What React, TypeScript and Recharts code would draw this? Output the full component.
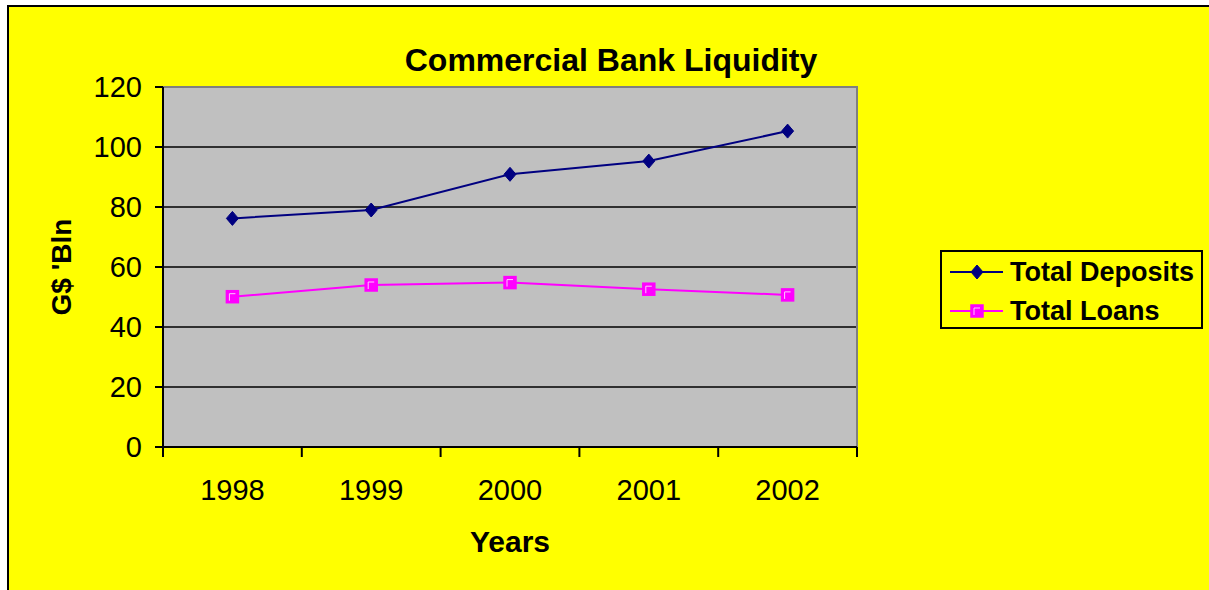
import { LineChart, Line, XAxis, YAxis, CartesianGrid, Legend, ReferenceArea, Label } from "recharts";

const years = ["1998", "1999", "2000", "2001", "2002"];
const deposits = [76.2, 79.0, 90.9, 95.3, 105.3];
const loans = [50.1, 54.0, 54.8, 52.6, 50.7];
const yTicks = [0, 20, 40, 60, 80, 100, 120];
const gridValues = [20, 40, 60, 80, 100];

const FONT = '"Liberation Sans", Arial, sans-serif';
const NAVY = "#000080";
const MAGENTA = "#FF00FF";

// numeric x so ticks can sit between categories, like excel
const rows = years.map((y, i) => ({ x: i + 0.5, year: y, deposits: deposits[i], loans: loans[i] }));

const Diamond = ({ cx, cy }: { cx: number; cy: number }) => (
  <polygon points={`${cx},${cy - 7} ${cx + 6},${cy} ${cx},${cy + 7} ${cx - 6},${cy}`} fill={NAVY} stroke={NAVY} />
);

const Square = ({ cx, cy }: { cx: number; cy: number }) => (
  <g>
    <rect x={cx - 6} y={cy - 6} width={12} height={12} fill={MAGENTA} stroke={MAGENTA} strokeWidth={1.5} />
    <polyline points={`${cx - 3},${cy + 4} ${cx - 3},${cy - 3} ${cx + 3},${cy - 3}`} fill="none" stroke="#ffc8ff" strokeWidth={1} />
  </g>
);

const XTick = (props: any) => {
  const { x, y, payload, width } = props;
  const i = payload.value;
  if (i >= years.length) return <g />;
  return (
    <text x={x + width / years.length / 2} y={y + 41} textAnchor="middle" fontSize={29} fontFamily={FONT} fill="#000">
      {years[i]}
    </text>
  );
};

const LegendBox = () => (
  <div style={{ width: 263, height: 79, boxSizing: "border-box", border: "2px solid #000", background: "#ffff00" }}>
    <svg width={259} height={75}>
      <line x1={8} x2={61} y1={20} y2={20} stroke={NAVY} strokeWidth={2} />
      <Diamond cx={35} cy={20} />
      <text x={68} y={29} fontSize={27} fontWeight="bold" fontFamily={FONT}>Total Deposits</text>
      <line x1={8} x2={61} y1={59} y2={59} stroke={MAGENTA} strokeWidth={2} />
      <Square cx={35} cy={59} />
      <text x={68} y={68} fontSize={27} fontWeight="bold" fontFamily={FONT}>Total Loans</text>
    </svg>
  </div>
);

export default function App() {
  return (
    <div style={{
      position: "absolute", left: 7, top: 5, width: 1200, height: 583,
      borderLeft: "2px solid #000", borderTop: "2px solid #000", background: "#ffff00",
      fontFamily: FONT,
    }}>
      <LineChart width={1200} height={583} data={rows} margin={{ top: 80, right: 352, bottom: 83, left: 84 }}>
        <text x={602} y={64} textAnchor="middle" fontSize={32} fontWeight="bold" fontFamily={FONT}>
          Commercial Bank Liquidity
        </text>
        <CartesianGrid horizontal vertical={false} horizontalValues={gridValues} stroke="#000" strokeWidth={1.5}
          fill="#c0c0c0" fillOpacity={1} />
        <ReferenceArea x1={0} x2={5} y1={0} y2={120} fill="none" stroke="#808080" strokeWidth={2} />
        <XAxis dataKey="x" type="number" domain={[0, 5]} ticks={[0, 1, 2, 3, 4, 5]} height={60}
          stroke="#000" strokeWidth={2} tickSize={10} tick={<XTick />} interval={0}>
          <Label content={({ viewBox }: any) => (
            <text x={viewBox.x + viewBox.width / 2} y={viewBox.y + 105} textAnchor="middle"
              fontSize={30} fontWeight="bold" fontFamily={FONT}>Years</text>
          )} />
        </XAxis>
        <YAxis type="number" domain={[0, 120]} ticks={yTicks} width={70} stroke="#000" strokeWidth={2}
          tickSize={8} tickMargin={13} interval={0}
          tick={{ fontSize: 29, fill: "#000", fontFamily: FONT }}>
          <Label content={({ viewBox }: any) => {
            const cx = viewBox.x - 22;
            const cy = viewBox.y + viewBox.height / 2;
            return (
              <text x={cx} y={cy} transform={`rotate(-90 ${cx} ${cy})`} textAnchor="middle"
                fontSize={28} fontWeight="bold" fontFamily={FONT}>G$ 'Bln</text>
            );
          }} />
        </YAxis>
        <Legend layout="vertical" align="center" verticalAlign="middle" content={() => <LegendBox />}
          wrapperStyle={{ left: 931, top: 243, width: 263, height: 79 }} />
        <Line dataKey="deposits" name="Total Deposits" stroke={NAVY} strokeWidth={2}
          dot={(p: any) => <Diamond key={`d${p.index}`} cx={p.cx} cy={p.cy} />} isAnimationActive={false} />
        <Line dataKey="loans" name="Total Loans" stroke={MAGENTA} strokeWidth={2}
          dot={(p: any) => <Square key={`l${p.index}`} cx={p.cx} cy={p.cy} />} isAnimationActive={false} />
      </LineChart>
    </div>
  );
}
